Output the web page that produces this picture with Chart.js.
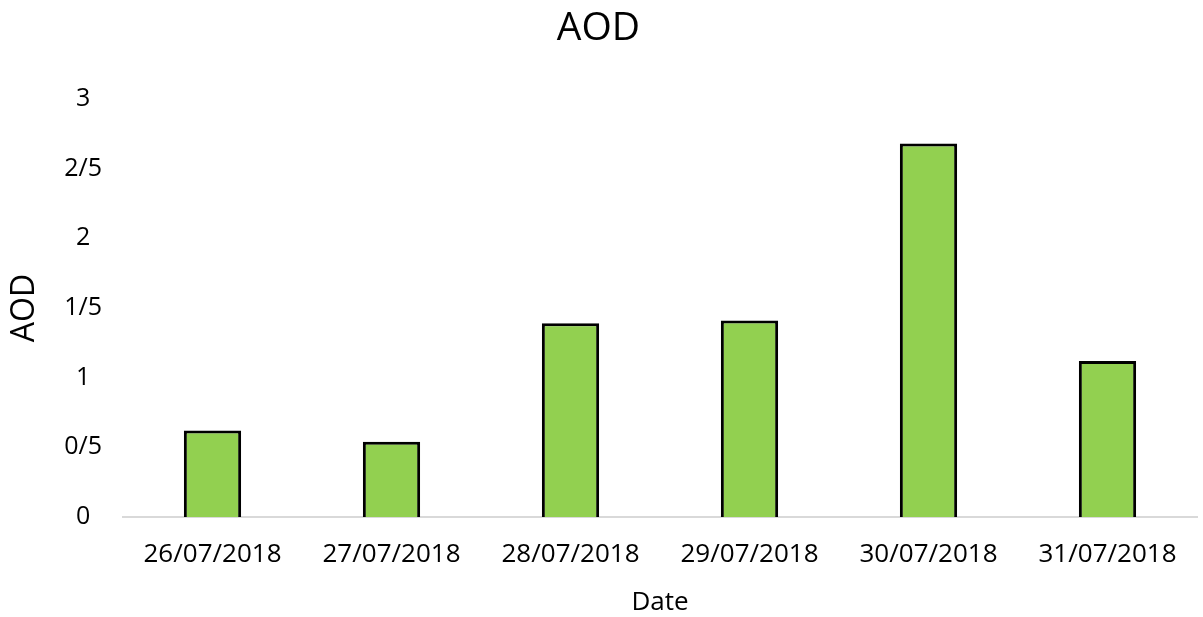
<!DOCTYPE html>
<html>
<head>
<meta charset="utf-8">
<script src="https://cdn.jsdelivr.net/npm/chart.js@4"></script>
<style>
  html, body { margin: 0; padding: 0; background: #ffffff; }
  #wrap { width: 1203px; height: 617px; }
</style>
</head>
<body>
<div id="wrap"><canvas id="c" width="1203" height="617"></canvas></div>
<script>
const categories = ["26/07/2018", "27/07/2018", "28/07/2018", "29/07/2018", "30/07/2018", "31/07/2018"];
const aodValues = [0.62, 0.54, 1.39, 1.41, 2.68, 1.12];
const yTickValues = [0, 0.5, 1, 1.5, 2, 2.5, 3];
const yTickLabels = ["0", "0/5", "1", "1/5", "2", "2/5", "3"];

const FONT = "'Open Sans', 'Noto Sans', sans-serif";

new Chart(document.getElementById('c'), {
  type: 'bar',
  data: {
    labels: categories,
    datasets: [{
      label: 'AOD',
      data: aodValues,
      backgroundColor: '#92D050',
      borderColor: '#000000',
      borderWidth: 3,
      borderSkipped: 'bottom',
      barPercentage: 0.32,
      categoryPercentage: 1.0
    }]
  },
  options: {
    responsive: false,
    animation: false,
    devicePixelRatio: 1,
    layout: { padding: { left: 0, right: 6, top: 0, bottom: 0 } },
    plugins: {
      legend: { display: false },
      tooltip: { enabled: false },
      title: {
        display: true,
        text: 'AOD',
        color: '#000000',
        font: { family: FONT, size: 39, weight: 'normal', lineHeight: 1 },
        padding: { top: 9.5, bottom: 50.5 }
      }
    },
    scales: {
      x: {
        grid: { display: false, drawTicks: false },
        border: { display: true, color: '#d9d9d9', width: 2 },
        ticks: {
          color: '#000000',
          font: { family: FONT, size: 26, lineHeight: 1.2 },
          padding: 22,
          maxRotation: 0,
          autoSkip: false
        },
        title: {
          display: true,
          text: 'Date',
          color: '#000000',
          font: { family: FONT, size: 26, lineHeight: 1 },
          padding: { top: 0, bottom: 1.5 }
        },
        afterFit: (scale) => { scale.height = 100; }
      },
      y: {
        min: 0,
        max: 3,
        afterBuildTicks: (scale) => { scale.ticks = yTickValues.map(v => ({ value: v })); },
        grid: { display: false, drawTicks: false },
        border: { display: false },
        ticks: {
          color: '#000000',
          font: { family: FONT, size: 25, lineHeight: 1.2 },
          padding: 21,
          crossAlign: 'center',
          callback: (value) => {
            const i = yTickValues.indexOf(value);
            return i >= 0 ? yTickLabels[i] : '';
          }
        },
        title: {
          display: true,
          text: 'AOD',
          color: '#000000',
          font: { family: FONT, size: 32, lineHeight: 1 },
          padding: { top: 9, bottom: 0 }
        },
        afterFit: (scale) => { scale.width = 123; }
      }
    }
  }
});
</script>
</body>
</html>
